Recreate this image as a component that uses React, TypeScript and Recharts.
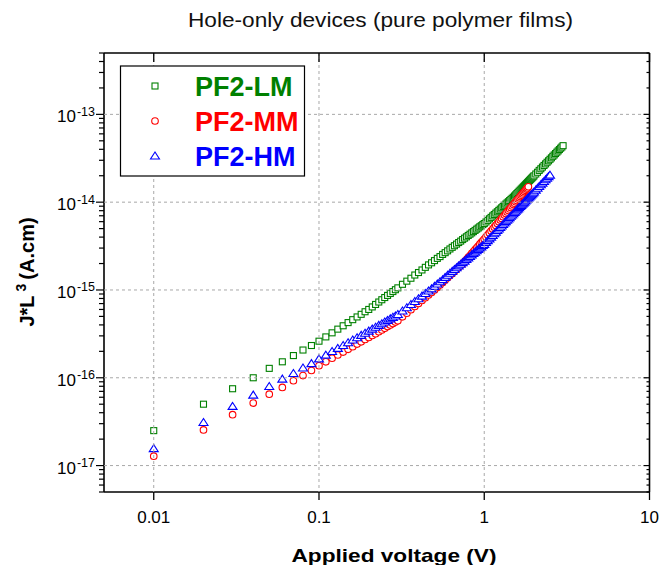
import React from "react";
import { ScatterChart, Scatter, XAxis, YAxis } from "recharts";

// applied voltage (V)
const voltage = [
  0.01, 0.02, 0.03, 0.04, 0.05, 0.06, 0.07, 0.08, 0.09, 0.1,
  0.11, 0.12, 0.13, 0.14, 0.15, 0.16, 0.17, 0.18, 0.19, 0.2,
  0.21, 0.22, 0.23, 0.24, 0.25, 0.26, 0.27, 0.28, 0.29, 0.3,
  0.32, 0.34, 0.36, 0.38, 0.4, 0.42, 0.44, 0.46, 0.48, 0.5,
  0.52, 0.54, 0.56, 0.58, 0.6,
  0.62, 0.64, 0.66, 0.68, 0.7, 0.72, 0.74, 0.76, 0.78, 0.8,
  0.82, 0.84, 0.86, 0.88, 0.9, 0.92, 0.94, 0.96, 0.98, 1.0,
  1.025, 1.05, 1.075, 1.1, 1.125, 1.15, 1.175, 1.2, 1.225, 1.25,
  1.275, 1.3, 1.325, 1.35, 1.375, 1.4, 1.425, 1.45, 1.475, 1.5,
  1.525, 1.55, 1.575, 1.6, 1.625, 1.65, 1.675, 1.7, 1.725, 1.75,
  1.775, 1.8, 1.825, 1.85, 1.875, 1.9, 1.925, 1.95, 1.975, 2.0,
  2.05, 2.1, 2.15, 2.2, 2.25, 2.3, 2.35, 2.4, 2.45, 2.5,
  2.55, 2.6, 2.65, 2.7, 2.75, 2.8, 2.85, 2.9, 2.95, 3.0,
];

// J*L^3 (A.cm), PF2-LM
const jl3LM = [
  2.5e-17, 5.0e-17, 7.5e-17, 1.0e-16, 1.28e-16, 1.52e-16, 1.79e-16, 2.07e-16, 2.33e-16, 2.61e-16,
  2.92e-16, 3.25e-16, 3.58e-16, 3.91e-16, 4.25e-16, 4.59e-16, 4.93e-16, 5.28e-16, 5.65e-16, 6.0e-16,
  6.41e-16, 6.84e-16, 7.29e-16, 7.74e-16, 8.2e-16, 8.67e-16, 9.12e-16, 9.59e-16, 1.007e-15, 1.057e-15,
  1.16e-15, 1.26e-15, 1.36e-15, 1.48e-15, 1.58e-15, 1.69e-15, 1.81e-15, 1.93e-15, 2.04e-15, 2.16e-15,
  2.29e-15, 2.4e-15, 2.54e-15, 2.66e-15, 2.79e-15,
  2.93e-15, 3.06e-15, 3.19e-15, 3.33e-15, 3.47e-15, 3.6e-15, 3.75e-15, 3.89e-15, 4.03e-15, 4.18e-15,
  4.32e-15, 4.47e-15, 4.62e-15, 4.77e-15, 4.93e-15, 5.08e-15, 5.24e-15, 5.39e-15, 5.55e-15, 5.71e-15,
  5.95e-15, 6.2e-15, 6.46e-15, 6.71e-15, 6.98e-15, 7.24e-15, 7.51e-15, 7.78e-15, 8.06e-15, 8.34e-15,
  8.63e-15, 8.92e-15, 9.21e-15, 9.51e-15, 9.81e-15, 1.012e-14, 1.043e-14, 1.074e-14, 1.106e-14, 1.138e-14,
  1.175e-14, 1.213e-14, 1.252e-14, 1.29e-14, 1.331e-14, 1.37e-14, 1.411e-14, 1.452e-14, 1.495e-14, 1.537e-14,
  1.58e-14, 1.624e-14, 1.668e-14, 1.713e-14, 1.759e-14, 1.805e-14, 1.851e-14, 1.898e-14, 1.946e-14, 1.994e-14,
  2.093e-14, 2.19e-14, 2.3e-14, 2.4e-14, 2.51e-14, 2.62e-14, 2.73e-14, 2.85e-14, 2.96e-14, 3.08e-14,
  3.2e-14, 3.33e-14, 3.45e-14, 3.58e-14, 3.71e-14, 3.84e-14, 3.98e-14, 4.12e-14, 4.25e-14, 4.4e-14,
];

// PF2-MM (ends at 1.85 V)
const jl3MM = [
  1.28e-17, 2.55e-17, 3.8e-17, 5.15e-17, 6.5e-17, 7.77e-17, 9.25e-17, 1.06e-16, 1.21e-16, 1.37e-16,
  1.52e-16, 1.67e-16, 1.82e-16, 1.96e-16, 2.11e-16, 2.26e-16, 2.42e-16, 2.57e-16, 2.73e-16, 2.88e-16,
  3.03e-16, 3.18e-16, 3.35e-16, 3.51e-16, 3.66e-16, 3.83e-16, 3.98e-16, 4.14e-16, 4.31e-16, 4.47e-16,
  4.94e-16, 5.43e-16, 5.96e-16, 6.49e-16, 7.03e-16, 7.59e-16, 8.17e-16, 8.77e-16, 9.38e-16, 1.0e-15,
  1.07e-15, 1.14e-15, 1.22e-15, 1.3e-15, 1.38e-15,
  1.46e-15, 1.54e-15, 1.63e-15, 1.72e-15, 1.81e-15, 1.9e-15, 1.99e-15, 2.1e-15, 2.22e-15, 2.35e-15,
  2.47e-15, 2.61e-15, 2.74e-15, 2.88e-15, 3.02e-15, 3.17e-15, 3.32e-15, 3.48e-15, 3.63e-15, 3.8e-15,
  4.02e-15, 4.24e-15, 4.46e-15, 4.7e-15, 4.94e-15, 5.19e-15, 5.44e-15, 5.71e-15, 5.97e-15, 6.25e-15,
  6.53e-15, 6.82e-15, 7.12e-15, 7.42e-15, 7.73e-15, 8.05e-15, 8.37e-15, 8.7e-15, 9.04e-15, 9.39e-15,
  9.74e-15, 1.01e-14, 1.047e-14, 1.084e-14, 1.122e-14, 1.161e-14, 1.2e-14, 1.24e-14, 1.282e-14, 1.323e-14,
  1.366e-14, 1.41e-14, 1.454e-14, 1.499e-14,
];

// PF2-HM (ends at 2.5 V)
const jl3HM = [
  1.56e-17, 3.1e-17, 4.72e-17, 6.35e-17, 7.95e-17, 9.66e-17, 1.12e-16, 1.29e-16, 1.45e-16, 1.64e-16,
  1.81e-16, 1.99e-16, 2.16e-16, 2.33e-16, 2.51e-16, 2.69e-16, 2.86e-16, 3.04e-16, 3.22e-16, 3.4e-16,
  3.58e-16, 3.76e-16, 3.95e-16, 4.13e-16, 4.32e-16, 4.5e-16, 4.69e-16, 4.88e-16, 5.06e-16, 5.25e-16,
  5.75e-16, 6.28e-16, 6.82e-16, 7.38e-16, 7.94e-16, 8.51e-16, 9.1e-16, 9.72e-16, 1.03e-15, 1.1e-15,
  1.17e-15, 1.24e-15, 1.31e-15, 1.39e-15, 1.47e-15,
  1.55e-15, 1.63e-15, 1.71e-15, 1.79e-15, 1.88e-15, 1.96e-15, 2.05e-15, 2.13e-15, 2.23e-15, 2.32e-15,
  2.41e-15, 2.51e-15, 2.6e-15, 2.7e-15, 2.8e-15, 2.9e-15, 3.0e-15, 3.1e-15, 3.21e-15, 3.31e-15,
  3.48e-15, 3.65e-15, 3.82e-15, 4.0e-15, 4.18e-15, 4.37e-15, 4.55e-15, 4.75e-15, 4.95e-15, 5.15e-15,
  5.36e-15, 5.56e-15, 5.78e-15, 6.0e-15, 6.22e-15, 6.44e-15, 6.67e-15, 6.91e-15, 7.14e-15, 7.39e-15,
  7.63e-15, 7.88e-15, 8.14e-15, 8.39e-15, 8.66e-15, 8.92e-15, 9.19e-15, 9.46e-15, 9.74e-15, 1.002e-14,
  1.031e-14, 1.06e-14, 1.09e-14, 1.119e-14, 1.149e-14, 1.18e-14, 1.21e-14, 1.242e-14, 1.274e-14, 1.306e-14,
  1.372e-14, 1.438e-14, 1.507e-14, 1.577e-14, 1.649e-14, 1.722e-14, 1.797e-14, 1.874e-14, 1.952e-14, 2.031e-14,
];

const seriesNames = ["PF2-LM", "PF2-MM", "PF2-HM"];
const seriesColors = ["#008000", "#ff0000", "#0000ff"];

const xTicks = [0.01, 0.1, 1, 10];
const xTickLabels = ["0.01", "0.1", "1", "10"];
const X_DOMAIN = [0.005, 10];
const Y_DOMAIN = [5e-18, 5e-13];

const W = 659;
const H = 565;
const MARGIN = { top: 53, right: 9.5, bottom: 0, left: 0 };
const Y_AXIS_W = 104;
const X_AXIS_H = 73;
const PLOT_W = W - MARGIN.right - Y_AXIS_W;
const PLOT_H = H - MARGIN.top - X_AXIS_H;
const FONT = "'Liberation Sans', Arial, Helvetica, sans-serif";
const GRID = { stroke: "#a8a8a8", strokeDasharray: "3 3", strokeWidth: 1 };

// y ticks: 1..9 x 10^n inside the domain (majors get a label + grid line)
const yTicks: number[] = [];
for (let e = -18; e <= -13; e++) {
  for (let m = 1; m <= 9; m++) {
    const v = Number((m * Math.pow(10, e)).toPrecision(3));
    if (v >= Y_DOMAIN[0] * 0.999 && v <= Y_DOMAIN[1] * 1.001) yTicks.push(v);
  }
}

const toPoints = (ys: number[]) => ys.map((j, i) => ({ v: voltage[i], j }));

function marker(kind: number, color: string) {
  return (p: any) => {
    const { cx, cy } = p;
    if (cx == null || cy == null) return <g />;
    if (kind === 0)
      return <rect x={cx - 3} y={cy - 3} width={6} height={6} fill="#fff" stroke={color} strokeWidth={1.1} />;
    if (kind === 1) return <circle cx={cx} cy={cy} r={3.3} fill="#fff" stroke={color} strokeWidth={1.1} />;
    return (
      <polygon
        points={`${cx},${cy - 4} ${cx - 4.5},${cy + 3} ${cx + 4.5},${cy + 3}`}
        fill="#fff"
        stroke={color}
        strokeWidth={1.1}
      />
    );
  };
}

function YTick(props: any) {
  const { x, y, payload } = props;
  const lg = Math.log10(payload.value);
  const e = Math.round(lg);
  const major = Math.abs(lg - e) < 1e-6;
  const isTop = Math.abs(payload.value / Y_DOMAIN[1] - 1) < 1e-6;
  const len = major ? 8 : 5;
  return (
    <g>
      {major && <line x1={x} x2={x + PLOT_W} y1={y} y2={y} {...GRID} />}
      {isTop && <line x1={x} x2={x + PLOT_W} y1={y} y2={y} stroke="#000" strokeWidth={1.6} />}
      <line x1={x - len} x2={x} y1={y} y2={y} stroke="#000" strokeWidth={1.2} />
      <line x1={x + PLOT_W - len + 2} x2={x + PLOT_W} y1={y} y2={y} stroke="#000" strokeWidth={1.2} />
      {major && (
        <text x={x - 9} y={y + 8} textAnchor="end" fontSize={17} fontFamily={FONT} fill="#000">
          10
          <tspan dy={-6.5} dx={1} fontSize={12.5}>
            {`${e}`}
          </tspan>
        </text>
      )}
    </g>
  );
}

function XTick(props: any) {
  const { x, y, payload } = props;
  const idx = xTicks.indexOf(payload.value);
  const isRight = payload.value === X_DOMAIN[1];
  return (
    <g>
      {isRight ? (
        <line x1={x} x2={x} y1={y - PLOT_H} y2={y} stroke="#000" strokeWidth={1.6} />
      ) : (
        <line x1={x} x2={x} y1={y - PLOT_H} y2={y} {...GRID} />
      )}
      <line x1={x} x2={x} y1={y} y2={y + 8} stroke="#000" strokeWidth={1.3} />
      <line x1={x} x2={x} y1={y - PLOT_H} y2={y - PLOT_H + 9} stroke="#000" strokeWidth={1.3} />
      <text x={x} y={y + 31} textAnchor="middle" fontSize={17} fontFamily={FONT} fill="#000">
        {idx >= 0 ? xTickLabels[idx] : ""}
      </text>
    </g>
  );
}

function LegendBox() {
  const rows = [86, 121, 156];
  return (
    <g>
      <rect x={120.5} y={66} width={184} height={110} fill="#fff" stroke="#000" strokeWidth={1.2} />
      {seriesNames.map((name, i) => (
        <g key={name}>
          {marker(i, seriesColors[i])({ cx: 155, cy: rows[i] })}
          <text
            x={195}
            y={rows[i] + 10}
            fontSize={27}
            fontWeight="bold"
            fontFamily={FONT}
            fill={seriesColors[i]}
          >
            {name}
          </text>
        </g>
      ))}
    </g>
  );
}

export default function App() {
  const data = [toPoints(jl3LM), toPoints(jl3MM), toPoints(jl3HM)];

  return (
    <div style={{ position: "absolute", left: 0, top: 0, width: W, height: H, background: "#fff" }}>
      <ScatterChart width={W} height={H} margin={MARGIN}>
        <XAxis
          dataKey="v"
          type="number"
          scale="log"
          domain={X_DOMAIN}
          allowDataOverflow
          ticks={xTicks}
          interval={0}
          height={X_AXIS_H}
          tick={<XTick />}
          tickLine={false}
          tickSize={0}
          tickMargin={0}
          axisLine={{ stroke: "#000", strokeWidth: 1.6 }}
        />
        <YAxis
          dataKey="j"
          type="number"
          scale="log"
          domain={Y_DOMAIN}
          allowDataOverflow
          ticks={yTicks}
          interval={0}
          width={Y_AXIS_W}
          tick={<YTick />}
          tickLine={false}
          tickSize={0}
          tickMargin={0}
          axisLine={{ stroke: "#000", strokeWidth: 1.6 }}
        />
        {data.map((pts, i) => (
          <Scatter
            key={seriesNames[i]}
            name={seriesNames[i]}
            data={pts}
            shape={marker(i, seriesColors[i])}
            isAnimationActive={false}
          />
        ))}
      </ScatterChart>
      <svg
        width={W}
        height={H}
        style={{ position: "absolute", left: 0, top: 0, pointerEvents: "none" }}
      >
        <text
          x={380.5}
          y={27}
          textAnchor="middle"
          fontSize={20}
          fontFamily={FONT}
          fill="#111"
          textLength={385}
          lengthAdjust="spacingAndGlyphs"
        >
          Hole-only devices (pure polymer films)
        </text>
        <text
          x={394}
          y={562}
          textAnchor="middle"
          fontSize={19}
          fontWeight="bold"
          fontFamily={FONT}
          fill="#000"
          textLength={205}
          lengthAdjust="spacingAndGlyphs"
        >
          Applied voltage (V)
        </text>
        <text
          transform="translate(34,272) rotate(-90)"
          textAnchor="middle"
          fontSize={20}
          fontWeight="bold"
          fontFamily={FONT}
          fill="#000"
        >
          J*L
          <tspan dy={-8} dx={4} fontSize={14}>
            3
          </tspan>
          <tspan dy={8} dx={4}>
            (A.cm)
          </tspan>
        </text>
        <LegendBox />
      </svg>
    </div>
  );
}
